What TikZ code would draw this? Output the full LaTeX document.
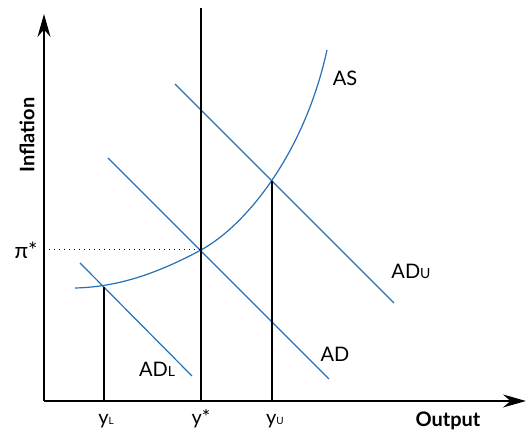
\documentclass[tikz,border=0pt]{standalone}
\usepackage{fontspec}
\setmainfont{Lato}
\usetikzlibrary{arrows.meta}
\definecolor{CurveBlue}{HTML}{2670B4}

\begin{document}
\begin{tikzpicture}[x=0.5pt,y=-0.5pt,>={Stealth[length=11.5pt,width=6.5pt]},
  curve/.style={CurveBlue,line width=0.6pt},
  guide/.style={black,line width=0.7pt},
  lbl/.style={inner sep=0pt,font=\fontsize{10}{12}\selectfont}]
  \useasboundingbox (0,0) rectangle (526,432);
  % axes
  \coordinate (O) at (44,401);
  \coordinate (ytop) at (44,14);
  \coordinate (xend) at (526,401);
  \draw[line width=0.75pt,->] (O) -- (ytop);
  \draw[line width=0.75pt,->] (O) -- (xend);
  \node[lbl,font=\fontsize{10}{12}\selectfont\bfseries,rotate=90] (infl) at (27,135) {Inflation};
  \node[lbl,font=\fontsize{10}{12}\selectfont\bfseries] (outp) at (448,421) {Output};
  % equilibria
  \coordinate (E) at (201,250);
  \coordinate (L) at (104,287);
  \coordinate (U) at (272,181);
  \coordinate (vtop) at (201,8);
  % AS curve
  \coordinate (as1) at (75,288);
  \coordinate (as2) at (327,50);
  \draw[curve] (as1) .. controls (120,287) and (160,272) .. (E)
    .. controls (245,226) and (304,155) .. (as2);
  % AD lines
  \coordinate (ad1) at (108,158);  \coordinate (ad2) at (329,379);
  \coordinate (adu1) at (175,84);  \coordinate (adu2) at (394,303);
  \coordinate (adl1) at (80,263);  \coordinate (adl2) at (192,376);
  \foreach \a/\b in {ad1/ad2,adu1/adu2,adl1/adl2}
    \draw[curve] (\a) -- (\b);
  % verticals and the dotted level
  \draw[guide] (vtop) -- (vtop |- O);
  \draw[guide] (L) -- (L |- O);
  \draw[guide] (U) -- (U |- O);
  \draw[line width=0.5pt,dotted] (E -| O) -- (E);
  % labels
  \node[lbl,font=\fontsize{11}{13}\selectfont] (pistar) at (26,250) {π*};
  \node[lbl] (yl) at (106,421) {y{\tiny L}};
  \node[lbl] (ystar) at (201,419) {y*};
  \node[lbl] (yu) at (275,421) {y{\tiny U}};
  \node[lbl] (aslbl) at (345,78) {AS};
  \node[lbl] (adulbl) at (411,271) {AD{\scriptsize U}};
  \node[lbl] (adlbl) at (335,354) {AD};
  \node[lbl] (adllbl) at (157,369) {AD{\scriptsize L}};
\end{tikzpicture}
\end{document}
